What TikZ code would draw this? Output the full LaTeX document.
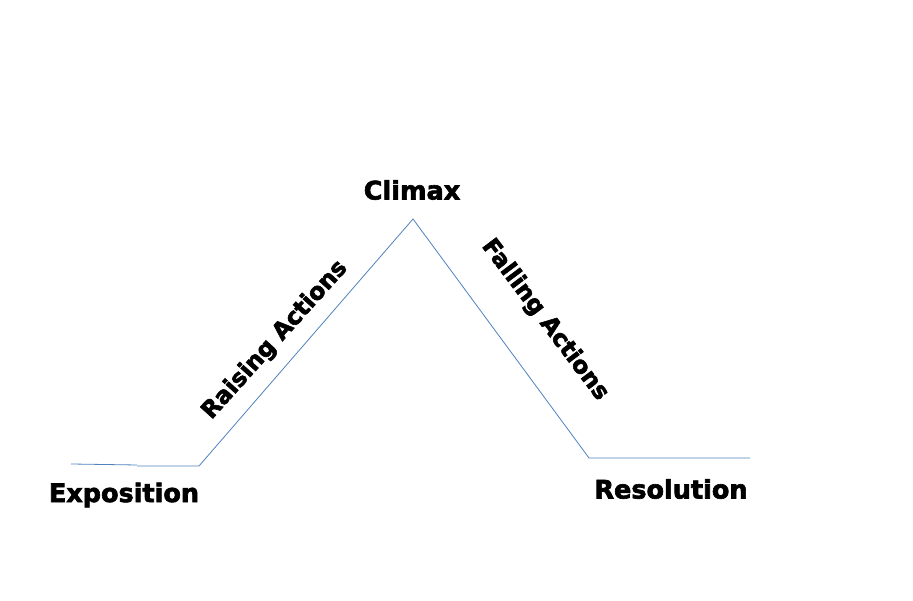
\documentclass[tikz,border=0pt]{standalone}
\usepackage{fontspec}
\setmainfont{DejaVu Sans}
\newfontfamily\heavyfont[FakeBold=2.5]{DejaVu Sans Bold}
\definecolor{lineblue}{RGB}{79,129,189}
\begin{document}
\begin{tikzpicture}[x=1pt,y=1pt,
  lbl/.style={font=\heavyfont\fontsize{25.5}{27}\selectfont, text=black, inner sep=0pt},
  slantlbl/.style={lbl, font=\heavyfont\fontsize{23.5}{25}\selectfont},
  plotline/.style={draw=lineblue, line width=0.8pt, line join=miter}]
\useasboundingbox (0,0) rectangle (913,601);
\coordinate (e0) at (71,137);
\coordinate (e1) at (137,136);
\coordinate (e2) at (137,135);
\coordinate (r0) at (199,135);
\coordinate (c0) at (413,382);
\coordinate (f0) at (589,143);
\coordinate (f1) at (750,143);
\draw[plotline] (e0) -- (e1);
\draw[plotline] (e2) -- (r0) -- (c0) -- (f0) -- (f1);
\node[lbl] (expo) at (124,106) {Exposition};
\node[lbl] (clim) at (412,411) {Climax};
\node[slantlbl, rotate=48] (rais) at (275,261) {Raising Actions};
\node[slantlbl, rotate=-53] (fall) at (545,281) {Falling Actions};
\node[lbl] (reso) at (671,112) {Resolution};
\end{tikzpicture}
\end{document}
